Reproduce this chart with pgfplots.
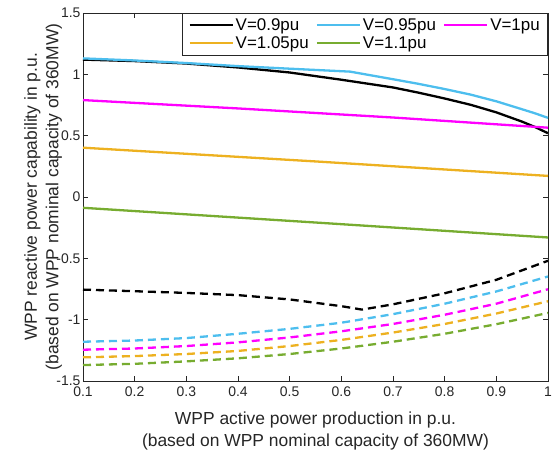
\documentclass[border=0pt]{standalone}
\usepackage{fontspec}
\setmainfont{Liberation Sans}
\usepackage{pgfplots}
\pgfplotsset{compat=1.18}
\definecolor{mblue}{rgb}{0.301,0.745,0.933}
\definecolor{morange}{rgb}{0.929,0.694,0.125}
\definecolor{mgreen}{rgb}{0.466,0.674,0.188}
\definecolor{mmag}{rgb}{1,0,1}
\definecolor{axgray}{rgb}{0.15,0.15,0.15}
\begin{document}
\begin{tikzpicture}
\begin{axis}[name=ax, scale only axis, width=465bp, height=368bp,
  xmin=0.1, xmax=1, ymin=-1.5, ymax=1.5,
  xtick={0.1,0.2,0.3,0.4,0.5,0.6,0.7,0.8,0.9,1},
  xticklabels={0.1,0.2,0.3,0.4,0.5,0.6,0.7,0.8,0.9,1},
  ytick={-1.5,-1,-0.5,0,0.5,1,1.5},
  yticklabels={-1.5,-1,-0.5,0,0.5,1,1.5},
  tick align=inside, tick pos=both, major tick length=5bp,
  axis line style={draw=axgray, line width=0.6bp},
  every tick/.style={draw=axgray, line width=0.6bp},
  tick label style={font=\fontsize{14}{14}\selectfont, text=axgray},
  xticklabel style={yshift=-2bp},
  yticklabel style={xshift=1bp},
  xlabel={WPP active power production in p.u.\\(based on WPP nominal capacity of 360MW)},
  ylabel={WPP reactive power capability in p.u.\\(based on WPP nominal capacity of 360MW)},
  xlabel style={font=\fontsize{17.5}{21.5}\selectfont, text=axgray, align=center, inner sep=0pt,
     at={(axis description cs:0.5,0)}, anchor=north, yshift=-31bp},
  ylabel style={font=\fontsize{17.5}{21.5}\selectfont, text=axgray, align=center, inner sep=0pt,
     at={(axis description cs:-0.045,0.5)}, anchor=south},
  legend columns=3,
  legend style={at={(1,1)}, anchor=north east, draw=axgray, line width=0.6bp,
     font=\fontsize{17}{19}\selectfont, text=black, inner xsep=6bp, inner ysep=3bp,
     /tikz/every even column/.append style={column sep=5bp},
     row sep=1bp},
  legend cell align=left,
  legend image code/.code={\draw[#1, line width=2.3bp] (0bp,0bp) -- (43bp,0bp);},
  every axis plot/.append style={line width=2.3bp, line join=round},
]
\addplot[draw=black] coordinates {(0.1,1.12)(0.2,1.108)(0.3,1.088)(0.4,1.056)(0.5,1.015)(0.6,0.956)(0.7,0.893)(0.75,0.85)(0.8,0.803)(0.85,0.752)(0.9,0.69)(0.95,0.614)(0.975,0.57)(1,0.52)};
\addlegendentry{V=0.9pu}
\addplot[draw=mblue] coordinates {(0.1,1.13)(0.2,1.113)(0.3,1.092)(0.4,1.067)(0.5,1.046)(0.617,1.022)(0.7,0.96)(0.75,0.922)(0.8,0.88)(0.85,0.835)(0.9,0.78)(0.95,0.715)(0.975,0.682)(1,0.645)};
\addlegendentry{V=0.95pu}
\addplot[draw=mmag] coordinates {(0.1,0.79)(0.4,0.722)(0.7,0.648)(1,0.565)};
\addlegendentry{V=1pu}
\addplot[draw=morange] coordinates {(0.1,0.402)(0.55,0.29)(1,0.172)};
\addlegendentry{V=1.05pu}
\addplot[draw=mgreen] coordinates {(0.1,-0.088)(0.55,-0.208)(1,-0.33)};
\addlegendentry{V=1.1pu}
\addplot[draw=black, dash pattern=on 8bp off 5bp, forget plot] coordinates {(0.1,-0.755)(0.2,-0.768)(0.3,-0.782)(0.4,-0.80)(0.5,-0.835)(0.6,-0.89)(0.64,-0.918)(0.7,-0.875)(0.8,-0.785)(0.9,-0.675)(1,-0.52)};
\addplot[draw=mblue, dash pattern=on 8bp off 5bp, forget plot] coordinates {(0.1,-1.18)(0.2,-1.17)(0.3,-1.15)(0.4,-1.115)(0.5,-1.075)(0.6,-1.025)(0.7,-0.955)(0.8,-0.87)(0.9,-0.77)(1,-0.648)};
\addplot[draw=mmag, dash pattern=on 8bp off 5bp, forget plot] coordinates {(0.1,-1.245)(0.2,-1.235)(0.3,-1.215)(0.4,-1.185)(0.5,-1.145)(0.6,-1.095)(0.7,-1.035)(0.8,-0.96)(0.9,-0.87)(1,-0.752)};
\addplot[draw=morange, dash pattern=on 8bp off 5bp, forget plot] coordinates {(0.1,-1.307)(0.2,-1.297)(0.3,-1.28)(0.4,-1.255)(0.5,-1.215)(0.6,-1.165)(0.7,-1.105)(0.8,-1.035)(0.9,-0.95)(1,-0.85)};
\addplot[draw=mgreen, dash pattern=on 8bp off 5bp, forget plot] coordinates {(0.1,-1.37)(0.2,-1.36)(0.3,-1.34)(0.4,-1.315)(0.5,-1.28)(0.6,-1.235)(0.7,-1.18)(0.8,-1.115)(0.9,-1.037)(1,-0.945)};
\end{axis}
\pgfresetboundingbox
\path (ax.south west) ++(-83bp,-70bp) rectangle ++(557bp,451bp);
\end{tikzpicture}
\end{document}
